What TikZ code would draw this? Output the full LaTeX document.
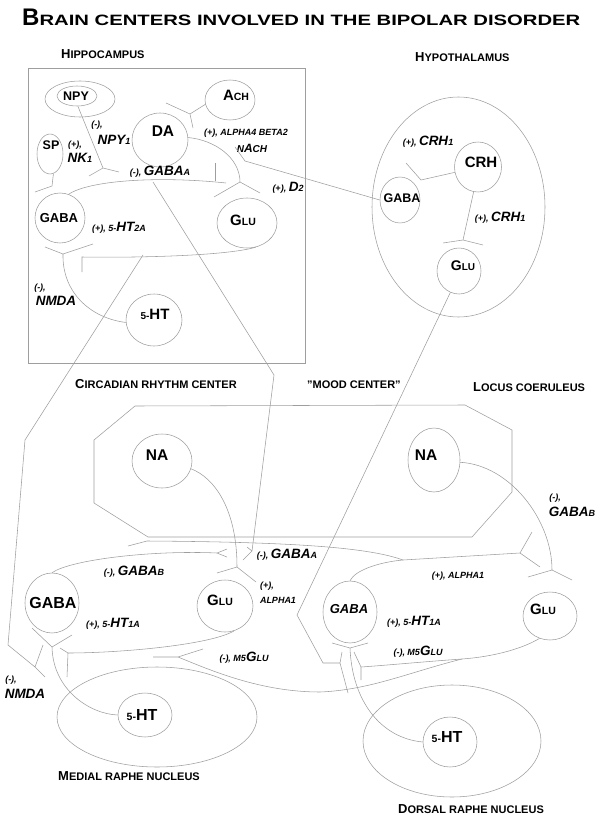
\documentclass[tikz,border=0pt]{standalone}
\usepackage{fontspec}
\setmainfont{Liberation Sans}
\usetikzlibrary{shapes.geometric}
\newcommand\fs[1]{\fontsize{#1}{#1}\selectfont}
\newcommand\sm[1]{{\fs{9}#1}}
\newcommand\md[1]{{\fs{13.5}#1}}
\newcommand\hd[2]{{\fs{13}#1}{\fs{11}#2}}
\begin{document}
\begin{tikzpicture}[x=1pt,y=-1pt,
  ln/.style={draw=black!38, line width=0.55pt},
  cell/.style={ellipse, draw=black!38, line width=0.55pt, inner sep=0pt},
  txt/.style={inner sep=0pt, font=\bfseries},
  lab/.style={inner sep=0pt, font=\bfseries\itshape},
  ttl/.style={inner sep=0pt, font=\bfseries, anchor=base west}]
\useasboundingbox (0,0) rectangle (600,821);

% ---------- titles ----------
\node[ttl] (title) at (22,26) {{\fs{24}B}\scalebox{1.35}[1]{\fs{15}RAIN CENTERS INVOLVED IN THE BIPOLAR DISORDER}};
\node[ttl] (thip) at (61,59) {\hd{H}{IPPOCAMPUS}};
\node[ttl] (thyp) at (415,62) {\hd{H}{YPOTHALAMUS}};
\node[ttl] (tcir) at (75,388) {\hd{C}{IRCADIAN RHYTHM CENTER}};
\node[ttl] (tmood) at (307,388) {{\fs{11}\symbol{34}MOOD CENTER\symbol{34}}};
\node[ttl] (tloc) at (473,391) {\hd{L}{OCUS COERULEUS}};
\node[ttl] (tmed) at (58,780) {\hd{M}{EDIAL RAPHE NUCLEUS}};
\node[ttl] (tdor) at (398,813) {\hd{D}{ORSAL RAPHE NUCLEUS}};

% ---------- regions ----------
\draw[ln] (28,68) rectangle (305,363);
\node[cell, minimum width=173pt, minimum height=220pt] (hypo) at (458.5,207) {};
\draw[ln] (135,406) -- (465,405) -- (512,430) -- (512,492) -- (472,537) -- (148,537) -- (94,503) -- (94,440) -- cycle;
\node[cell, minimum width=200pt, minimum height=100pt] (mrn) at (157,717) {};
\node[cell, minimum width=178pt, minimum height=112pt] (drn) at (452,741) {};

% ---------- hippocampus cells ----------
\node[cell, minimum width=70pt, minimum height=36pt] (npyout) at (80,99) {};
\node[cell, minimum width=40pt, minimum height=20pt] (npyin) at (77,96) {};
\node[txt] (tnpy) at (76,96) {\fs{12.5}NPY};
\node[cell, minimum width=26pt, minimum height=40pt] (sp) at (50,154) {};
\node[txt] (tsp) at (51,145) {\fs{12.5}SP};
\node[cell, minimum width=56pt, minimum height=54pt] (da) at (160,140) {};
\node[txt] (tda) at (163,131) {\fs{15.5}DA};
\node[cell, minimum width=50pt, minimum height=40pt] (ach) at (230,100) {};
\node[txt] (tach) at (236,95) {{\fs{15}A}{\fs{10.5}CH}};
\node[cell, minimum width=50pt, minimum height=50pt] (gaba1) at (60,218) {};
\node[txt] (tgaba1) at (59,218) {\fs{13}GABA};
\node[cell, minimum width=60pt, minimum height=50pt] (glu1) at (247,223) {};
\node[txt] (tglu1) at (243,220) {{\fs{15}G}{\fs{10.5}LU}};
\node[cell, minimum width=56pt, minimum height=52pt] (ht1) at (154,320) {};
\node[txt] (tht1) at (155,314) {{\fs{10}5-}{\fs{15}HT}};

% ---------- hypothalamus cells ----------
\node[cell, minimum width=47pt, minimum height=50pt] (crh) at (478,167) {};
\node[txt] (tcrh) at (481,162) {\fs{15}CRH};
\node[cell, minimum width=40pt, minimum height=46pt] (hgaba) at (400,200) {};
\node[txt] (thgaba) at (402,198) {\fs{12.5}GABA};
\node[cell, minimum width=44pt, minimum height=46pt] (hglu) at (459,271) {};
\node[txt] (thglu) at (463,266) {{\fs{14}G}{\fs{10}LU}};

% ---------- lower cells ----------
\node[cell, minimum width=60pt, minimum height=54pt] (na1) at (162,461) {};
\node[txt] (tna1) at (157,455) {\fs{15.5}NA};
\node[cell, minimum width=52pt, minimum height=64pt] (na2) at (434,460) {};
\node[txt] (tna2) at (426,455) {\fs{15.5}NA};
\node[cell, minimum width=54pt, minimum height=60pt] (gaba2) at (52,603) {};
\node[txt] (tgaba2) at (53,603) {\fs{16}GABA};
\node[cell, minimum width=56pt, minimum height=52pt] (glu2) at (225,606) {};
\node[txt] (tglu2) at (220,600) {{\fs{15}G}{\fs{10.5}LU}};
\node[cell, minimum width=54pt, minimum height=62pt] (gaba3) at (350,612) {};
\node[lab] (tgaba3) at (349,609) {\fs{13}GABA};
\node[cell, minimum width=54pt, minimum height=48pt] (glu3) at (550,616) {};
\node[txt] (tglu3) at (543,609) {{\fs{15}G}{\fs{10.5}LU}};
\node[cell, minimum width=54pt, minimum height=44pt] (ht2) at (145,715) {};
\node[txt] (tht2) at (142,715) {{\fs{10.5}5-}{\fs{16}HT}};
\node[cell, minimum width=54pt, minimum height=50pt] (ht3) at (450,742) {};
\node[txt] (tht3) at (447,737) {{\fs{10.5}5-}{\fs{16}HT}};

% ---------- receptor labels ----------
\node[lab] (l1) at (97,125) {\sm{(-),}};
\node[lab] (l2) at (114,140) {\md{NPY}\sm{1}};
\node[lab] (l3) at (75,145) {\sm{(+),}};
\node[lab] (l4) at (80,158) {\md{NK}\sm{1}};
\node[lab] (l5) at (160,172) {\sm{(-), }\md{GABA}\sm{A}};
\node[lab] (l6) at (246,133) {\sm{(+), ALPHA4 BETA2}};
\node[lab] (l7) at (252,148) {{\fs{10}N}{\fs{12}A}{\fs{10}CH}};
\node[lab] (l8) at (288,188) {\sm{(+), }\md{D}\sm{2}};
\node[lab] (l9) at (119,228) {\sm{(+), 5-}\md{HT}\sm{2A}};
\node[lab] (l10) at (40,288) {\sm{(-),}};
\node[lab] (l11) at (56,301) {\md{NMDA}};
\node[lab] (l12) at (428,142) {\sm{(+), }\md{CRH}\sm{1}};
\node[lab] (l13) at (500,218) {\sm{(+), }\md{CRH}\sm{1}};
\node[lab] (l14) at (287,555) {\sm{(-), }\md{GABA}\sm{A}};
\node[lab] (l15) at (134,572) {\sm{(-), }\md{GABA}\sm{B}};
\node[lab] (l16) at (267,586) {\sm{(+),}};
\node[lab] (l17) at (278,600) {\sm{ALPHA1}};
\node[lab] (l18) at (113,624) {\sm{(+), 5-}\md{HT}\sm{1A}};
\node[lab] (l19) at (244,658) {\sm{(-), M5}\md{G}\sm{LU}};
\node[lab] (l20) at (458,576) {\sm{(+), ALPHA1}};
\node[lab] (l21) at (414,622) {\sm{(+), 5-}\md{HT}\sm{1A}};
\node[lab] (l22) at (418,652) {\sm{(-), M5}\md{G}\sm{LU}};
\node[lab] (l23) at (555,498) {\sm{(-),}};
\node[lab] (l24) at (572,512) {\md{GABA}\sm{B}};
\node[lab] (l25) at (11,680) {\sm{(-),}};
\node[lab] (l26) at (25,694) {\md{NMDA}};

% ---------- fork points ----------
\coordinate (fNPY) at (103,168);
\coordinate (fSP) at (52,186);
\coordinate (fACH) at (190,114);
\coordinate (fD2) at (240,182);
\coordinate (fHYP) at (245,161);
\coordinate (eGABA) at (226,183);
\coordinate (eGLU) at (82,257);
\coordinate (f5HT) at (63,254);
\coordinate (oGA) at (153,182);
\coordinate (fGA) at (252,551);
\coordinate (oNM) at (143,255);
\coordinate (fNM) at (35,667);
\coordinate (fCRH1) at (421,180);
\coordinate (fCRH2) at (463,240);
\coordinate (fHG) at (340,663);
\coordinate (fNA1) at (237,567);
\coordinate (fNA2) at (552,570);
\coordinate (fGB) at (217,553);
\coordinate (jGB) at (403,560);
\coordinate (fGB2) at (520,553);
\coordinate (eGB) at (147,541);
\coordinate (fHT2) at (52,647);
\coordinate (fG2) at (68,653);
\coordinate (jM5) at (462,659);
\coordinate (fM5a) at (361,667);
\coordinate (fM5b) at (178,657);
\coordinate (fHT3) at (350,648);

% ---------- hippocampus connectors ----------
\draw[ln] (npyin.-85) -- (fNPY) (fNPY) -- (89,176) (fNPY) -- (119,172);
\draw[ln] (sp.-80) -- (fSP) -- (35,192);
\draw[ln] (ach.190) -- (fACH) (fACH) -- (166,103) (fACH) -- (193,128);
\draw[ln] (da.5) .. controls (215,140) and (240,158) .. (fD2) (fD2) -- (214,197) (fD2) -- (260,193);
\draw[ln] (hgaba.west) -- (fHYP) -- (235,147);
\draw[ln] (gaba1.70) .. controls (90,180) and (160,176) .. (eGABA);
\draw[ln] (215,163) -- (215,181);
\draw[ln] (glu1.-70) .. controls (230,255) and (150,258) .. (eGLU) -- (82,272);
\draw[ln] (ht1.185) .. controls (90,318) and (62,292) .. (f5HT) (f5HT) -- (45,247) (f5HT) -- (93,244);
\draw[ln] (oGA) -- (274,375) -- (fGA) (fGA) -- (247,547) (fGA) -- (243,560);
\draw[ln] (oNM) -- (25,440) -- (8,645) -- (fNM) (fNM) -- (43,645) (fNM) -- (45,677);

% ---------- hypothalamus connectors ----------
\draw[ln] (crh.193) -- (fCRH1) -- (406,163);
\draw[ln] (crh.-100) -- (fCRH2) (fCRH2) -- (443,243) (fCRH2) -- (483,245);
\draw[ln] (hglu.-112) -- (297,615) -- (323,663) -- (fHG) (fHG) -- (342,652) (fHG) -- (348,693);

% ---------- lower connectors ----------
\draw[ln] (na1.-15) .. controls (215,478) and (237,510) .. (fNA1) (fNA1) -- (217,573) (fNA1) -- (256,582);
\draw[ln] (na2.-5) .. controls (510,465) and (552,520) .. (fNA2) (fNA2) -- (528,577) (fNA2) -- (572,580);
\draw[ln] (gaba2.north) .. controls (70,560) and (150,550) .. (fGB) (fGB) -- (227,549) (fGB) -- (227,557);
\draw[ln] (gaba3.north) .. controls (355,570) and (380,562) .. (jGB) -- (fGB2) (fGB2) -- (532,532) (fGB2) -- (540,567);
\draw[ln] (jGB) .. controls (370,548) and (300,542) .. (eGB) -- (128,546);
\draw[ln] (ht2.west) .. controls (90,714) and (53,690) .. (fHT2) (fHT2) -- (32,628) (fHT2) -- (72,635);
\draw[ln] (glu2.-70) .. controls (210,645) and (120,653) .. (fG2) (fG2) -- (60,648) (fG2) -- (67,677);
\draw[ln] (glu3.-115) .. controls (520,650) and (490,657) .. (jM5);
\draw[ln] (jM5) .. controls (420,662) and (390,665) .. (fM5a) (fM5a) -- (354,652) (fM5a) -- (361,680);
\draw[ln] (jM5) .. controls (410,672) and (370,690) .. (320,692) .. controls (260,692) and (210,670) .. (fM5b) (fM5b) -- (153,657) (fM5b) -- (203,649);
\draw[ln] (ht3.west) .. controls (380,738) and (352,700) .. (fHT3) (fHT3) -- (332,643) (fHT3) -- (368,643);
\end{tikzpicture}
\end{document}
